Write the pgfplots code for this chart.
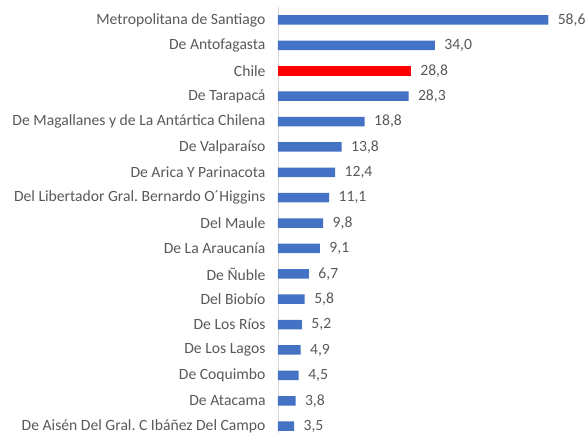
\documentclass[border=0pt]{standalone}
\usepackage{pgfplots}
\pgfplotsset{compat=1.18}
\usepackage{fontspec}
\setmainfont{Carlito}
\definecolor{barblue}{HTML}{4472C4}
\definecolor{txt}{HTML}{595959}
\definecolor{axline}{HTML}{D9D9D9}
\begin{document}
\begin{tikzpicture}
\begin{axis}[name=ax, scale only axis, width=309bp, height=425.7bp,
  xbar, bar width=9.5bp, bar shift=0pt,
  xmin=0, xmax=67, ymin=-0.5, ymax=16.27, y dir=reverse,
  axis x line=none, axis y line=left,
  y axis line style={draw=axline, line width=0.9bp, -},
  ytick={0,...,16}, major tick length=0pt,
  yticklabels={Metropolitana de Santiago, De Antofagasta, Chile, De Tarapacá,
    De Magallanes y de La Antártica Chilena, De Valparaíso, De Arica Y Parinacota,
    Del Libertador Gral.\ Bernardo O´Higgins, Del Maule, De La Araucanía, De Ñuble,
    Del Biobío, De Los Ríos, De Los Lagos, De Coquimbo, De Atacama,
    De Aisén Del Gral.\ C Ibáñez Del Campo},
  yticklabel style={font=\fontsize{15.7}{17}\selectfont, text=txt, xshift=-9bp},
  nodes near coords, nodes near coords align={horizontal},
  every node near coord/.append style={font=\fontsize{15.7}{17}\selectfont, text=txt, anchor=west, xshift=6bp},
  /pgf/number format/.cd, fixed, fixed zerofill, precision=1, use comma, assume math mode=true,
]
\addplot[fill=barblue, draw=none] coordinates {
  (58.6,0) (34.0,1) (28.3,3) (18.8,4) (13.8,5) (12.4,6) (11.1,7) (9.8,8)
  (9.1,9) (6.7,10) (5.8,11) (5.2,12) (4.9,13) (4.5,14) (3.8,15) (3.5,16)};
\addplot[fill=red, draw=none] coordinates {(28.8,2)};
\end{axis}
\pgfresetboundingbox
\useasboundingbox ([xshift=-278bp]ax.south west) rectangle ([yshift=7.3bp]ax.north east);
\end{tikzpicture}
\end{document}
